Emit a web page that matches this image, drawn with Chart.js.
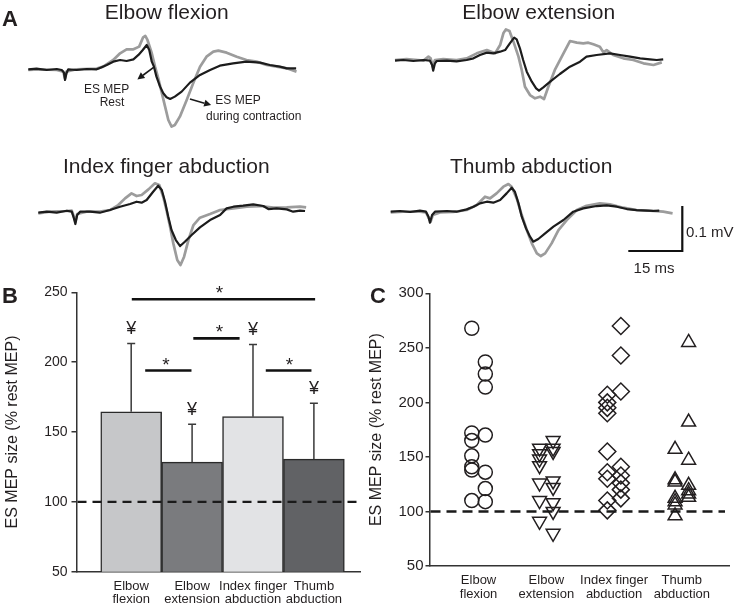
<!DOCTYPE html>
<html><head><meta charset="utf-8">
<script src="https://cdn.jsdelivr.net/npm/chart.js@4.4.1/dist/chart.umd.min.js"></script>
<style>
html,body{margin:0;padding:0;background:#fff;}
#wrap{position:relative;width:739px;height:608px;overflow:hidden;}
canvas{position:absolute;}
svg{position:absolute;left:0;top:0;}
svg text{font-family:"Liberation Sans",Arial,sans-serif;fill:#231f20;}
</style></head><body><div id="wrap">
<canvas id="t1"></canvas><canvas id="t2"></canvas><canvas id="t3"></canvas><canvas id="t4"></canvas>
<canvas id="cb"></canvas><canvas id="cc"></canvas>
<svg width="739" height="608">
<text x="2" y="26" font-size="22" font-weight="bold">A</text>
<text x="166.7" y="19" font-size="21" text-anchor="middle">Elbow flexion</text>
<text x="538.7" y="19" font-size="21" text-anchor="middle">Elbow extension</text>
<text x="166.3" y="173" font-size="21" text-anchor="middle">Index finger abduction</text>
<text x="531.2" y="172.5" font-size="21" text-anchor="middle">Thumb abduction</text>
<text x="106.7" y="93.3" font-size="12" text-anchor="middle">ES MEP</text>
<text x="112" y="106" font-size="12" text-anchor="middle">Rest</text>
<text x="238" y="104.3" font-size="12" text-anchor="middle">ES MEP</text>
<text x="253.7" y="119.5" font-size="12" text-anchor="middle">during contraction</text>
<text x="686" y="236.7" font-size="15">0.1 mV</text>
<text x="654" y="273.3" font-size="15" text-anchor="middle">15 ms</text>
<text x="2" y="303" font-size="22" font-weight="bold">B</text>
<text x="370" y="303" font-size="22" font-weight="bold">C</text>
</svg>
</div>
<script>
// ---------- Panel A: example traces (time in ms, amplitude in mV) ----------
const flexRest = [[0,0],[2.3,0.0015],[5.1,-0.0015],[7.9,0.0007],[9.3,-0.0015],[9.9,-0.0074],[10.2,-0.0237],[10.6,-0.0089],[11.1,0],[13.4,-0.0015],[16.2,0.0007],[19.0,0],[19.9,0.003],[21.8,0.0096],[23.6,0.017],[25.5,0.0207],[27.3,0.0185],[29.2,0.0222],[30.6,0.0319],[31.8,0.043],[32.9,0.054],[33.6,0.043],[34.3,0.017],[34.9,0.0059],[35.6,-0.0163],[36.6,-0.0385],[37.5,-0.0533],[38.4,-0.0622],[39.4,-0.0659],[40.7,-0.0607],[42.6,-0.0496],[44.9,-0.0296],[47.7,-0.0126],[50.5,-0.0015],[53.2,0.0081],[56.9,0.0133],[60.6,0.017],[64.4,0.0148],[67.1,0.0096],[69.9,0.0059],[71.8,0.0022],[74.4,0.0022]];
const flexContr = [[0,-0.0015],[3.2,0],[7.9,-0.0015],[9.7,-0.0052],[10.2,-0.02],[10.6,-0.0052],[13.4,0],[19.0,0.0015],[20.8,0.0059],[23.6,0.0207],[25.5,0.0356],[27.3,0.0444],[29.2,0.0444],[30.8,0.0504],[31.9,0.0711],[32.5,0.0741],[33.1,0.0652],[34.3,0.0356],[35.2,0.0059],[36.1,-0.02],[37.0,-0.0496],[38.0,-0.083],[38.9,-0.1126],[39.8,-0.1274],[40.7,-0.1237],[42.1,-0.1052],[44.0,-0.0681],[45.8,-0.0311],[47.7,0.0059],[49.5,0.0281],[51.4,0.0393],[52.8,0.0415],[55.1,0.037],[57.9,0.0281],[60.6,0.0207],[63.4,0.017],[66.2,0.0096],[69.0,0.0059],[71.8,0.0022],[74.5,-0.0052]];
const extRest = [[0,-0.0015],[2.3,0],[5.1,-0.0022],[7.9,0],[9.7,-0.0015],[10.3,-0.0111],[10.6,-0.0237],[11.1,-0.0074],[11.6,-0.0022],[14.4,-0.0015],[17.1,-0.003],[19.9,0],[21.8,0.0037],[23.6,0.0111],[25.5,0.0163],[27.3,0.0148],[29.2,0.0185],[30.6,0.0222],[31.9,0.037],[33.1,0.0496],[33.8,0.0459],[34.7,0.0259],[35.6,0],[36.6,-0.0259],[38.0,-0.0481],[39.2,-0.063],[40.0,-0.0681],[41.2,-0.0607],[43.1,-0.0481],[45.8,-0.0311],[48.6,-0.0148],[51.4,-0.0037],[53.2,0.0074],[56.0,0.0111],[59.7,0.0148],[62.5,0.0111],[65.3,0.0074],[68.1,0.0037],[70.8,0.0015],[72.7,0],[74.5,0.0015]];
const extContr = [[0,0],[3.2,0.0022],[7.9,-0.0015],[9.3,0.0074],[9.9,0.0037],[10.5,-0.0148],[11.1,0],[13.4,0.0022],[17.1,0],[19.9,0.0037],[22.7,0.0148],[25.5,0.0222],[27.8,0.0148],[29.2,0.0333],[30.1,0.0593],[30.8,0.0681],[31.8,0.0644],[32.9,0.0407],[34.3,0.0074],[35.2,-0.0222],[36.1,-0.0593],[37.5,-0.0778],[38.9,-0.0852],[40.3,-0.0815],[41.4,-0.0867],[42.6,-0.0593],[44.4,-0.0222],[46.8,0.0148],[48.6,0.0422],[50.5,0.0385],[52.3,0.037],[53.7,0.0385],[55.1,0.0348],[56.9,0.0296],[57.9,0.017],[58.8,0.0222],[60.6,0.0111],[63.4,0.0037],[66.2,0],[69.0,-0.0074],[71.8,-0.0111],[74.1,-0.0052]];
const indexRest = [[0,-0.0022],[2.3,0],[5.1,-0.0022],[7.9,0.0022],[9.3,0],[9.9,-0.0148],[10.3,-0.0274],[10.8,-0.0074],[11.6,0],[14.4,0],[17.1,-0.0022],[19.9,0.0037],[22.7,0.0111],[25.5,0.017],[27.3,0.0222],[28.7,0.02],[30.1,0.0259],[31.9,0.0444],[33.3,0.0578],[34.3,0.0481],[35.2,0.0222],[36.1,-0.0111],[37.0,-0.0407],[38.2,-0.063],[39.4,-0.0763],[40.7,-0.0667],[42.6,-0.0519],[44.9,-0.0348],[47.7,-0.0185],[50.5,-0.0074],[52.3,0.0074],[54.2,0.0111],[56.9,0.0133],[59.7,0.0163],[62.5,0.0126],[63.9,0.0059],[66.2,0.0074],[69.0,0.0052],[70.8,0],[72.7,0.0022],[74.1,0.0015]];
const indexContr = [[0,-0.0037],[3.2,0],[7.9,0.0015],[9.3,0.0022],[9.9,-0.0111],[10.3,-0.0222],[10.8,-0.0052],[13.4,0],[17.1,0],[19.9,0.0037],[22.2,0.0148],[24.1,0.0296],[25.9,0.0407],[27.3,0.0348],[28.7,0.037],[30.6,0.0496],[32.4,0.063],[33.6,0.0593],[34.7,0.0333],[35.6,0.0037],[36.6,-0.0333],[37.5,-0.0704],[38.6,-0.1074],[39.5,-0.1185],[40.5,-0.1],[41.7,-0.063],[43.1,-0.0296],[44.9,-0.0133],[47.7,-0.0052],[50.5,0.0037],[54.2,0.0074],[57.9,0.0111],[61.6,0.0126],[65.3,0.0089],[69.0,0.0096],[72.7,0.0111],[74.4,0.0096]];
const thumbRest = [[0,0],[2.6,0.0015],[5.4,-0.0007],[8.1,0.0022],[9.8,0],[10.5,-0.0111],[10.9,-0.0244],[11.5,-0.0074],[12.3,0],[15.6,0.0015],[18.3,0],[21.1,0.0052],[23.0,0.0111],[24.8,0.0185],[26.7,0.0222],[28.5,0.02],[30.4,0.0259],[32.2,0.0407],[33.6,0.0533],[34.5,0.0444],[35.5,0.0185],[36.4,-0.0111],[37.6,-0.037],[38.7,-0.0556],[39.6,-0.0667],[41.0,-0.0607],[42.9,-0.0481],[45.2,-0.0333],[48.0,-0.0185],[50.7,0],[53.5,0.0074],[57.2,0.0126],[60.0,0.0141],[62.8,0.0111],[65.6,0.0059],[68.3,0.0037],[71.1,0.0022],[73.0,0.0015],[74.6,0.0022]];
const thumbContr = [[0,-0.0015],[3.5,0],[8.1,0],[9.8,-0.0015],[10.6,-0.0148],[11.1,-0.0222],[11.7,-0.0074],[13.7,-0.0015],[17.4,-0.0007],[21.1,0.0037],[23.9,0.0148],[26.2,0.0333],[27.6,0.0296],[29.4,0.0407],[31.3,0.0556],[32.7,0.0615],[33.6,0.0556],[35.0,0.0296],[36.4,-0.0074],[37.8,-0.0407],[39.2,-0.0704],[40.6,-0.0926],[41.7,-0.0985],[42.9,-0.0926],[44.7,-0.0704],[46.6,-0.0407],[48.9,-0.0185],[51.7,0.0037],[54.4,0.0133],[58.1,0.0185],[60.9,0.0163],[64.6,0.0089],[68.3,0.0037],[72.0,0.0022],[75.7,0],[78.3,-0.0037]];
const scaleBarMs = 15, scaleBarMv = 0.1;

// ---------- Panel B ----------
const categories = [["Elbow","flexion"],["Elbow","extension"],["Index finger","abduction"],["Thumb","abduction"]];
const meanB = [164.5, 128.4, 161, 130.6];
const sdB = [48.8, 27.2, 51.6, 40];
const sigFrom = [0.01, 0.23, 1.02, 2.21];
const sigTo = [3.02, 0.99, 1.78, 2.96];
const sigY = [245, 194, 217, 194];
const sigStarX = [1.45, 0.57, 1.45, 2.6];
const yTicksB = [50, 100, 150, 200, 250];
const yTicksC = [50, 100, 150, 200, 250, 300];
const referenceLevel = 100;

// ---------- Panel C (individual subjects) ----------
const flexionLeft = [268, 172, 165, 151, 141, 138, 110];
const flexionRight = [237, 226, 214, 170, 136, 121, 109];
const extensionLeft = [158, 153, 148, 142, 126, 110, 91];
const extensionRight = [165, 158, 155, 128, 122, 108, 100, 80];
const indexLeft = [207, 200, 195, 190, 155, 136, 130, 110, 101];
const indexRight = [270, 243, 210, 141, 133, 126, 120, 112];
const thumbLeft = [157, 129, 127, 112, 109, 106, 96];
const thumbRight = [255, 182, 147, 124, 119, 116, 113];

// ---------- styles / layout ----------
const FONT = '"Liberation Sans", Arial, sans-serif';
Chart.defaults.font.family = FONT;
Chart.defaults.color = '#231f20';
const GRAY = '#9c9c9c', BLACK = '#1c1c1c';
const PX_PER_MS = 3.6, PX_PER_MV = 450;
const barColors = ['#c6c7c9', '#7a7b7e', '#e2e3e5', '#616265'];
const JITTER = 0.1;

function place(id, l, t, w, h) {
  const cv = document.getElementById(id);
  cv.width = w; cv.height = h;
  cv.style.left = l + 'px'; cv.style.top = t + 'px';
  cv.style.width = w + 'px'; cv.style.height = h + 'px';
  return cv;
}

function makeTrace(id, box, originX, baselineY, series, plugins) {
  const cv = place(id, box.l, box.t, box.w, box.h);
  const xmin = (box.l - originX) / PX_PER_MS, xmax = (box.l + box.w - originX) / PX_PER_MS;
  const ymax = (baselineY - box.t) / PX_PER_MV, ymin = (baselineY - box.t - box.h) / PX_PER_MV;
  return new Chart(cv, {
    type: 'scatter',
    data: { datasets: series.map(s => ({
      data: s.pts.map(p => ({ x: p[0], y: p[1] })),
      showLine: true, borderColor: s.color, borderWidth: s.width, pointRadius: 0,
      tension: 0, borderJoinStyle: s.join || 'round', borderCapStyle: 'butt', fill: false, clip: false
    })) },
    options: {
      responsive: false, animation: false, events: [],
      layout: { padding: 0 },
      plugins: { legend: { display: false }, tooltip: { enabled: false } },
      scales: {
        x: { type: 'linear', display: false, min: xmin, max: xmax },
        y: { type: 'linear', display: false, min: ymin, max: ymax }
      }
    },
    plugins: plugins || []
  });
}

const arrowsA = [ { from: [34.9, 0.005], to: [30.3, -0.0225] }, { from: [44.9, -0.066], to: [50.8, -0.0795] } ];
const arrowPlugin = {
  id: 'arrows',
  afterDatasetsDraw(chart) {
    const { ctx, scales: { x, y } } = chart;
    ctx.save();
    ctx.strokeStyle = '#1a1a1a'; ctx.fillStyle = '#1a1a1a'; ctx.lineWidth = 1.6;
    arrowsA.forEach(a => {
      const x1 = x.getPixelForValue(a.from[0]), y1 = y.getPixelForValue(a.from[1]);
      const x2 = x.getPixelForValue(a.to[0]), y2 = y.getPixelForValue(a.to[1]);
      const ang = Math.atan2(y2 - y1, x2 - x1), hl = 7, hw = 3.6;
      const bx = x2 - Math.cos(ang) * hl, by = y2 - Math.sin(ang) * hl;
      ctx.beginPath(); ctx.moveTo(x1, y1); ctx.lineTo(bx, by); ctx.stroke();
      ctx.beginPath(); ctx.moveTo(x2, y2);
      ctx.lineTo(bx + Math.sin(ang) * hw, by - Math.cos(ang) * hw);
      ctx.lineTo(bx - Math.sin(ang) * hw, by + Math.cos(ang) * hw);
      ctx.closePath(); ctx.fill();
    });
    ctx.restore();
  }
};

makeTrace('t1', { l: 20, t: 25, w: 290, h: 110 }, 28.3, 69.3,
  [{ pts: flexRest, color: BLACK, width: 2.2 }, { pts: flexContr, color: GRAY, width: 2.7 }], [arrowPlugin]);
makeTrace('t2', { l: 385, t: 15, w: 295, h: 95 }, 395, 60,
  [{ pts: extRest, color: BLACK, width: 2.2 }, { pts: extContr, color: GRAY, width: 2.7 }]);
makeTrace('t3', { l: 30, t: 170, w: 285, h: 100 }, 38.3, 211.7,
  [{ pts: indexRest, color: BLACK, width: 2.2 }, { pts: indexContr, color: GRAY, width: 2.7 }]);
const barCorner = [81, -0.0873];
makeTrace('t4', { l: 380, t: 170, w: 310, h: 100 }, 390.7, 211.7,
  [{ pts: thumbRest, color: BLACK, width: 2.2 }, { pts: thumbContr, color: GRAY, width: 2.7 },
   { pts: [[barCorner[0] - scaleBarMs, barCorner[1]], barCorner, [barCorner[0], barCorner[1] + scaleBarMv]], color: '#111', width: 2.2, join: 'miter' }]);

// ---------- Panel B chart ----------
const barExtras = {
  id: 'barExtras',
  afterDatasetsDraw(chart) {
    const { ctx, chartArea, scales: { x, y } } = chart;
    ctx.save();
    // error bars + yen markers
    ctx.strokeStyle = '#3a3a3a'; ctx.lineWidth = 1.5;
    ctx.fillStyle = '#231f20'; ctx.font = '18px ' + FONT; ctx.textAlign = 'center'; ctx.textBaseline = 'alphabetic';
    categories.forEach((c, i) => {
      const px = x.getPixelForValue(i);
      const top = y.getPixelForValue(meanB[i] + sdB[i]);
      const base = y.getPixelForValue(meanB[i]);
      ctx.beginPath(); ctx.moveTo(px, base); ctx.lineTo(px, top);
      ctx.moveTo(px - 4, top); ctx.lineTo(px + 4, top); ctx.stroke();
      ctx.fillText('¥', px, top - 9.5);
    });
    // reference line
    const yr = y.getPixelForValue(referenceLevel);
    ctx.strokeStyle = '#1a1a1a'; ctx.lineWidth = 2.4; ctx.setLineDash([9, 6]);
    ctx.beginPath(); ctx.moveTo(chartArea.left + 1, yr); ctx.lineTo(chartArea.right, yr); ctx.stroke();
    ctx.setLineDash([]);
    // significance bars
    ctx.strokeStyle = '#111'; ctx.lineWidth = 2.6;
    ctx.font = '19px ' + FONT;
    sigY.forEach((v, k) => {
      const yy = y.getPixelForValue(v);
      ctx.beginPath(); ctx.moveTo(x.getPixelForValue(sigFrom[k]), yy); ctx.lineTo(x.getPixelForValue(sigTo[k]), yy); ctx.stroke();
      ctx.fillText('*', x.getPixelForValue(sigStarX[k]), yy);
    });
    ctx.restore();
  }
};

const cvB = place('cb', 0, 270, 370, 338);
new Chart(cvB, {
  type: 'bar',
  data: { datasets: [{
    data: categories.map((c, i) => ({ x: i, y: meanB[i] })),
    backgroundColor: barColors, borderColor: '#2a2a2a', borderWidth: 1.5, borderSkipped: 'bottom',
    barPercentage: 1, categoryPercentage: 1
  }] },
  options: {
    responsive: false, animation: false, events: [],
    layout: { padding: { left: 0, top: 22.3, right: 10, bottom: 0 } },
    plugins: { legend: { display: false }, tooltip: { enabled: false } },
    scales: {
      x: {
        type: 'linear', offset: false, min: -0.898, max: 3.757,
        afterBuildTicks: s => { s.ticks = categories.map((c, i) => ({ value: i })); },
        afterFit: s => { s.height = 36.3; },
        grid: { display: false, drawTicks: false },
        border: { display: true, color: '#333', width: 1.5 },
        ticks: { autoSkip: false, maxRotation: 0, minRotation: 0, padding: 7.5, font: { size: 13, lineHeight: 1.06 }, color: '#231f20',
          callback: v => categories[v] }
      },
      y: {
        min: 50, max: 250,
        afterBuildTicks: s => { s.ticks = yTicksB.map(v => ({ value: v })); },
        afterFit: s => { s.width = 76.5; },
        ticks: { padding: 4, font: { size: 14 }, color: '#231f20' },
        grid: { display: true, drawOnChartArea: false, drawTicks: true, tickLength: 5, color: '#333', lineWidth: 1.5 },
        border: { display: true, color: '#333', width: 1.5 },
        title: { display: true, text: 'ES MEP size (% rest MEP)', font: { size: 16, lineHeight: 1.2 }, padding: { top: 3.4, bottom: 0 }, color: '#231f20' }
      }
    }
  },
  plugins: [barExtras]
});

// ---------- Panel C chart ----------
const refLineC = {
  id: 'refLineC',
  afterDatasetsDraw(chart) {
    const { ctx, chartArea, scales: { y } } = chart;
    const yr = y.getPixelForValue(referenceLevel);
    ctx.save();
    ctx.strokeStyle = '#1a1a1a'; ctx.lineWidth = 2.4; ctx.setLineDash([10, 6]);
    ctx.beginPath(); ctx.moveTo(chartArea.left + 1, yr); ctx.lineTo(chartArea.right - 4, yr); ctx.stroke();
    ctx.restore();
  }
};
const groupsC = [
  { left: flexionLeft, right: flexionRight, style: 'circle', rot: 0, r: 7 },
  { left: extensionLeft, right: extensionRight, style: 'triangle', rot: 180, r: 8 },
  { left: indexLeft, right: indexRight, style: 'rectRot', rot: 0, r: 8.5 },
  { left: thumbLeft, right: thumbRight, style: 'triangle', rot: 0, r: 8 }
];
const cvC = place('cc', 364, 270, 375, 338);
new Chart(cvC, {
  type: 'scatter',
  data: { datasets: groupsC.map((g, i) => ({
    data: g.left.map(v => ({ x: i - JITTER, y: v })).concat(g.right.map(v => ({ x: i + JITTER, y: v }))),
    pointStyle: g.style, pointRotation: g.rot, pointRadius: g.r,
    pointBackgroundColor: 'rgba(0,0,0,0)', pointBorderColor: '#231f20', pointBorderWidth: 1.5, showLine: false
  })) },
  options: {
    responsive: false, animation: false, events: [],
    layout: { padding: { left: 0, top: 23.3, right: 9, bottom: 0 } },
    plugins: { legend: { display: false }, tooltip: { enabled: false } },
    scales: {
      x: {
        type: 'linear', min: -0.724, max: 3.696,
        afterBuildTicks: s => { s.ticks = categories.map((c, i) => ({ value: i })); },
        afterFit: s => { s.height = 42; },
        grid: { display: false, drawTicks: false },
        border: { display: true, color: '#333', width: 1.5 },
        ticks: { autoSkip: false, maxRotation: 0, minRotation: 0, padding: 7.5, font: { size: 13, lineHeight: 1.06 }, color: '#231f20',
          callback: v => categories[v] }
      },
      y: {
        min: 50, max: 300,
        afterBuildTicks: s => { s.ticks = yTicksC.map(v => ({ value: v })); },
        afterFit: s => { s.width = 65.5; },
        ticks: { padding: 2, font: { size: 15 }, color: '#231f20' },
        grid: { display: true, drawOnChartArea: false, drawTicks: true, tickLength: 4, color: '#333', lineWidth: 1.5 },
        border: { display: true, color: '#333', width: 1.5 },
        title: { display: true, text: 'ES MEP size (% rest MEP)', font: { size: 16, lineHeight: 1.2 }, padding: { top: 3.4, bottom: 0 }, color: '#231f20' }
      }
    }
  },
  plugins: [refLineC]
});
</script>
</body></html>
